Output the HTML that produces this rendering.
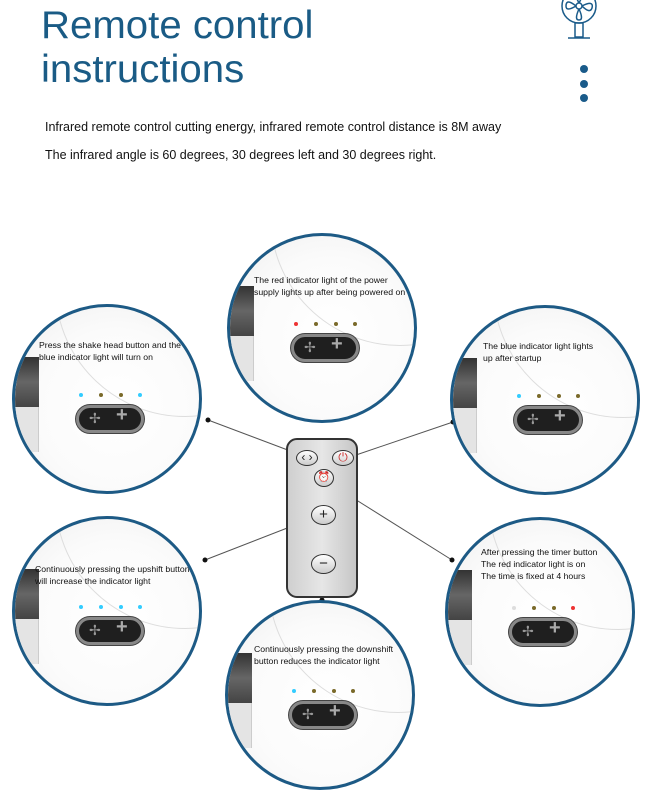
<!DOCTYPE html>
<html><head><meta charset="utf-8"><style>
*{margin:0;padding:0;box-sizing:border-box}
body{width:645px;height:807px;background:#fff;position:relative;overflow:hidden;font-family:"Liberation Sans",sans-serif}
.t{position:absolute;left:41px;color:#1a5b85;font-size:39px;line-height:44px;transform:scaleX(1.03);transform-origin:left}
.p{position:absolute;left:45px;font-size:12.5px;color:#111}
.c{position:absolute;width:190px;height:190px;border:3.5px solid #1d5a85;border-radius:50%;overflow:hidden;background:radial-gradient(circle at 55% 55%,#fff 0,#fbfbfb 55%,#eee 100%)}
.c .arc{position:absolute;left:40px;top:-150px;width:260px;height:260px;border-radius:50%;border:1px solid #ddd;background:transparent}
.c .s1{position:absolute;left:0;top:50px;width:24px;height:50px;background:linear-gradient(#333,#666,#444)}
.c .s2{position:absolute;left:0;top:100px;width:24px;height:45px;background:#e4e4e4;border-right:1px solid #ccc}
.c .tx{position:absolute;left:24px;font-size:8.7px;line-height:12px;color:#111;white-space:nowrap}
.c .d{position:absolute;top:86px;width:4px;height:4px;border-radius:50%;background:#7a6a2a}
.c .o{position:absolute;left:61px;top:98px;width:68px;height:28px;border-radius:14px;background:#1f1f1f;border:3px solid #888;box-shadow:0 0 0 1px #444}
.c .o::before{content:"✢";position:absolute;left:10px;top:2px;color:#999;font-size:14px}
.c .o::after{content:"+";position:absolute;left:37px;top:-4px;color:#aaa;font-size:20px;font-weight:bold}
.r{position:absolute;left:286px;top:438px;width:72px;height:160px;border:2px solid #333;border-radius:11px;background:linear-gradient(90deg,#cfcfcf,#e6e6e6 50%,#c6c6c6)}
.b{position:absolute;border:1.5px solid #333;border-radius:50%;background:linear-gradient(#fff,#ccc);text-align:center;font-size:12px;color:#222}
</style></head><body>
<div class="t" style="top:4px">Remote control</div>
<div class="t" style="top:48px">instructions</div>
<div class="p" style="top:120px">Infrared remote control cutting energy, infrared remote control distance is 8M away</div>
<div class="p" style="top:148px">The infrared angle is 60 degrees, 30 degrees left and 30 degrees right.</div>

<svg style="position:absolute;left:0;top:0" width="645" height="807">
<g stroke="#1a5b8a" stroke-width="1.5" fill="none">
<circle cx="579" cy="6" r="17"/><circle cx="579" cy="6" r="3"/>
<path d="M579 3 Q572 -10 579 -10 Q586 -10 579 3 M582 6 Q594 0 592 8 Q590 14 582 6 M576 6 Q566 12 566 6 Q566 -2 576 6 M579 9 Q574 20 579 20 Q584 20 579 9"/>
<rect x="575" y="23" width="8" height="14"/><line x1="568" y1="38" x2="590" y2="38"/>
</g>
<g fill="#1a5b8a"><circle cx="584" cy="69" r="4"/><circle cx="584" cy="84" r="4"/><circle cx="584" cy="98" r="4"/></g>
<g stroke="#555" stroke-width="1">
<line x1="208" y1="420" x2="293" y2="452"/>
<line x1="453" y1="422" x2="356" y2="455"/>
<line x1="205" y1="560" x2="313" y2="518"/>
<line x1="334" y1="486" x2="452" y2="560"/>
<line x1="322" y1="573" x2="322" y2="600"/>
</g>
<g fill="#111"><circle cx="208" cy="420" r="2.5"/><circle cx="453" cy="422" r="2.5"/><circle cx="205" cy="560" r="2.5"/><circle cx="452" cy="560" r="2.5"/><circle cx="322" cy="600" r="2.5"/></g>
</svg>

<div class="r">
<div class="b" style="left:8px;top:10px;width:22px;height:16px;line-height:13px">‹ ›</div>
<div class="b" style="left:44px;top:10px;width:22px;height:16px;line-height:13px;color:#c33">⏻</div>
<div class="b" style="left:26px;top:29px;width:20px;height:18px;line-height:15px;font-size:10px">⏰</div>
<div class="b" style="left:23px;top:65px;width:25px;height:20px;line-height:17px;font-size:15px">+</div>
<div class="b" style="left:23px;top:114px;width:25px;height:20px;line-height:17px;font-size:15px">−</div>
</div>

<!-- top -->
<div class="c" style="left:227px;top:233px"><div class="arc"></div><div class="s1"></div><div class="s2"></div>
<div class="tx" style="top:38px">The red indicator light of the power<br>supply lights up after being powered on</div>
<div class="d" style="left:64px;background:#e33"></div><div class="d" style="left:84px"></div><div class="d" style="left:104px"></div><div class="d" style="left:123px"></div><div class="o"></div></div>
<!-- left upper -->
<div class="c" style="left:12px;top:304px"><div class="arc"></div><div class="s1"></div><div class="s2"></div>
<div class="tx" style="top:32px">Press the shake head button and the<br>blue indicator light will turn on</div>
<div class="d" style="left:64px;background:#3cf"></div><div class="d" style="left:84px"></div><div class="d" style="left:104px"></div><div class="d" style="left:123px;background:#3cf"></div><div class="o"></div></div>
<!-- right upper -->
<div class="c" style="left:450px;top:305px"><div class="arc"></div><div class="s1"></div><div class="s2"></div>
<div class="tx" style="left:30px;top:32px">The blue indicator light lights<br>up after startup</div>
<div class="d" style="left:64px;background:#3cf"></div><div class="d" style="left:84px"></div><div class="d" style="left:104px"></div><div class="d" style="left:123px"></div><div class="o"></div></div>
<!-- left lower -->
<div class="c" style="left:12px;top:516px"><div class="arc"></div><div class="s1"></div><div class="s2"></div>
<div class="tx" style="left:20px;top:44px">Continuously pressing the upshift button<br>will increase the indicator light</div>
<div class="d" style="left:64px;background:#3cf"></div><div class="d" style="left:84px;background:#3cf"></div><div class="d" style="left:104px;background:#3cf"></div><div class="d" style="left:123px;background:#3cf"></div><div class="o"></div></div>
<!-- right lower -->
<div class="c" style="left:445px;top:517px"><div class="arc"></div><div class="s1"></div><div class="s2"></div>
<div class="tx" style="left:33px;top:26px">After pressing the timer button<br>The red indicator light is on<br>The time is fixed at 4 hours</div>
<div class="d" style="left:64px;background:#ddd"></div><div class="d" style="left:84px"></div><div class="d" style="left:104px"></div><div class="d" style="left:123px;background:#e33"></div><div class="o"></div></div>
<!-- bottom -->
<div class="c" style="left:225px;top:600px"><div class="arc"></div><div class="s1"></div><div class="s2"></div>
<div class="tx" style="left:26px;top:40px">Continuously pressing the downshift<br>button reduces the indicator light</div>
<div class="d" style="left:64px;background:#3cf"></div><div class="d" style="left:84px"></div><div class="d" style="left:104px"></div><div class="d" style="left:123px"></div><div class="o"></div></div>
</body></html>
